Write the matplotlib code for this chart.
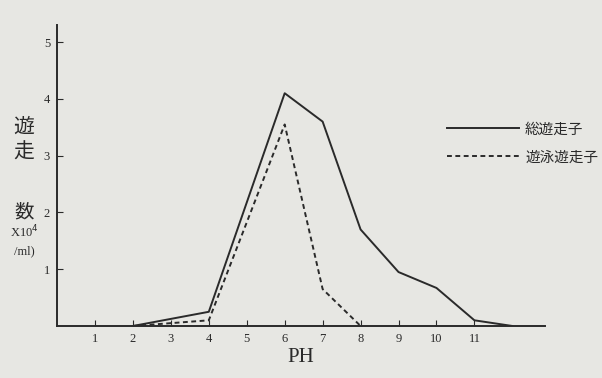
import matplotlib.pyplot as plt

ph = [2, 4, 6, 7, 8, 9, 10, 11, 12]
total = [0, 0.25, 4.1, 3.6, 1.7, 0.95, 0.67, 0.1, 0]

ph_swim = [2, 3, 4, 6, 7, 8]
swim = [0, 0.05, 0.1, 3.55, 0.65, 0]

xticks = list(range(1, 12))
yticks = [1, 2, 3, 4, 5]

jp = ['Noto Sans CJK JP', 'DejaVu Sans']
serif = 'Liberation Serif'
ink = '#2a2a2a'

fig = plt.figure(figsize=(6.02, 3.78), dpi=100)
fig.patch.set_facecolor('#e7e7e3')
ax = fig.add_axes([0.0947, 0.1376, 0.81, 0.796])
ax.set_facecolor('#e7e7e3')

ax.plot(ph, total, color=ink, lw=1.4, label='総遊走子')
ax.plot(ph_swim, swim, color=ink, lw=1.4, ls=(0, (2.5, 1.8)), label='遊泳遊走子')

ax.set_xlim(0, 12.85)
ax.set_ylim(0, 5.3)
for s in ['top', 'right']:
    ax.spines[s].set_visible(False)
for s in ['left', 'bottom']:
    ax.spines[s].set_color(ink)
    ax.spines[s].set_linewidth(1.4)

ax.set_xticks(xticks)
ax.set_yticks(yticks)
ax.set_xticklabels([str(t) for t in xticks], fontfamily=serif, fontsize=9, color=ink)
ax.set_yticklabels([str(t) for t in yticks], fontfamily=serif, fontsize=9, color=ink)
ax.tick_params(direction='in', length=4, color=ink, pad=5)

ax.set_xlabel('PH', fontfamily=serif, fontsize=15, color=ink, labelpad=2)

# y label written vertically, like the original page
fig.text(0.04, 0.665, '遊', family=jp, fontsize=15, color=ink, ha='center', va='center')
fig.text(0.04, 0.595, '走', family=jp, fontsize=15, color=ink, ha='center', va='center')
fig.text(0.04, 0.44, '数', family=jp, fontsize=14, color=ink, ha='center', va='center')
fig.text(0.04, 0.385, 'X10$^{4}$', family=serif, fontsize=9, color=ink, ha='center', va='center')
fig.text(0.04, 0.335, '/ml)', family=serif, fontsize=9, color=ink, ha='center', va='center')

leg = ax.legend(loc='upper left', bbox_to_anchor=(0.773, 0.72), frameon=False,
                prop={'family': jp, 'size': 10.5}, handlelength=4.9, labelspacing=0.95,
                handletextpad=0.45)
for t in leg.get_texts():
    t.set_color(ink)

plt.savefig('out.png', dpi=100, facecolor=fig.get_facecolor())
